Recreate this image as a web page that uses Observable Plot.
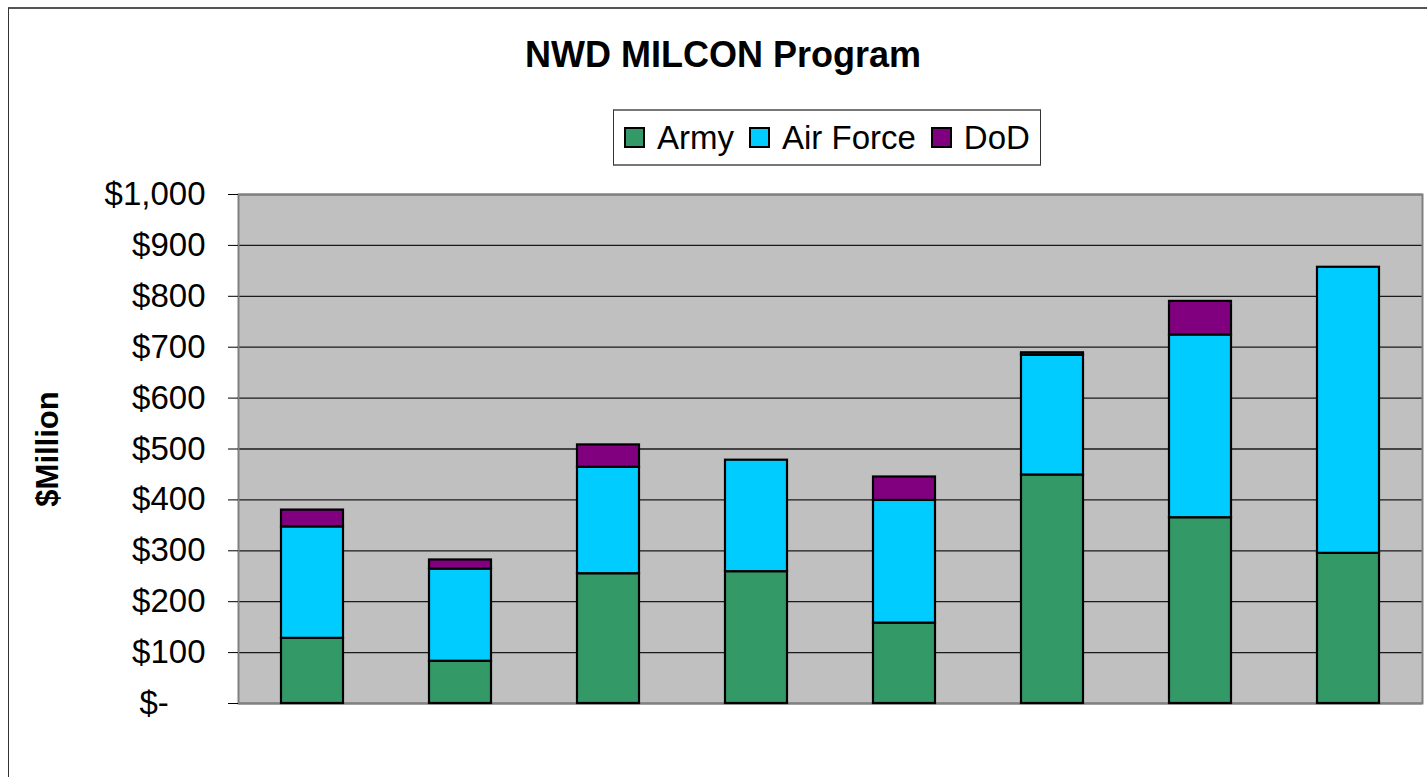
<!DOCTYPE html>
<html>
<head>
<meta charset="utf-8">
<script src="https://cdn.jsdelivr.net/npm/d3@7"></script>
<script src="https://cdn.jsdelivr.net/npm/@observablehq/plot@0.6"></script>
<style>
  html, body { margin: 0; padding: 0; background: #fff; }
  #page { position: relative; width: 1427px; height: 777px; overflow: hidden; font-family: "Liberation Sans", Arial, sans-serif; }
  #frame { position: absolute; left: 8px; top: 7px; width: 1500px; height: 900px; border-left: 1px solid #333; border-top: 2px solid #555; box-sizing: border-box; }
  #title { position: absolute; left: 0; width: 1446px; top: 33px; text-align: center; font-weight: bold; font-size: 36px; line-height: 44px; color: #000; }
  #legend { position: absolute; left: 613px; top: 109px; width: 428px; height: 57px; box-sizing: border-box; border: 1px solid #333; border-top: 2px solid #777; border-bottom: 2px solid #777; background: #fff; display: flex; flex-wrap: nowrap; align-items: center; padding-left: 10px; font-size: 33px; white-space: nowrap; }
  .item { display: flex; align-items: center; margin-right: 15px; flex-shrink: 0; white-space: nowrap; }
  .sw { width: 21px; height: 21px; border: 2px solid #000; margin-right: 12px; box-sizing: border-box; flex-shrink: 0; }
  #chart { position: absolute; left: 0; top: 170px; }
</style>
</head>
<body>
<div id="page">
  <div id="frame"></div>
  <div id="title"></div>
  <div id="legend"></div>
  <div id="chart"></div>
</div>
<script>
const titleText = "NWD MILCON Program";
const yLabel = "$Million";
const categories = ["1", "2", "3", "4", "5", "6", "7", "8"];
const seriesNames = ["Army", "Air Force", "DoD"];
const seriesColors = ["#339966", "#00CCFF", "#800080"];
const army     = [128, 83, 255, 259, 158, 449, 365, 295];
const airForce = [219, 181, 209, 219, 241, 235, 359, 562];
const dod      = [33, 18, 44, 0, 46, 5, 66, 0];
const yTicks = [0, 100, 200, 300, 400, 500, 600, 700, 800, 900, 1000];

document.getElementById("title").textContent = titleText;
const legend = document.getElementById("legend");
seriesNames.forEach((name, i) => {
  const item = document.createElement("div");
  item.className = "item";
  const sw = document.createElement("div");
  sw.className = "sw";
  sw.style.background = seriesColors[i];
  const t = document.createElement("span");
  t.textContent = name;
  item.appendChild(sw);
  item.appendChild(t);
  legend.appendChild(item);
});

const seriesValues = [army, airForce, dod];
const data = [];
categories.forEach((c, ci) => {
  seriesNames.forEach((s, si) => {
    data.push({category: c, series: s, value: seriesValues[si][ci]});
  });
});

const fmt = d => d === 0 ? "$-\u00a0\u00a0\u00a0\u00a0" : "$" + d3.format(",")(d);

const chart = Plot.plot({
  width: 1427,
  height: 607,
  marginLeft: 238,
  marginRight: 5,
  marginTop: 24,
  marginBottom: 74,
  style: {fontFamily: "'Liberation Sans', Arial, sans-serif", fontSize: "33px", background: "transparent", color: "#000"},
  x: {domain: categories, paddingInner: 0.58, paddingOuter: 0.29, axis: null},
  y: {domain: [0, 1000]},
  color: {domain: seriesNames, range: seriesColors},
  marks: [
    Plot.frame({fill: "#C0C0C0", stroke: null}),
    Plot.gridY(yTicks, {stroke: "#1a1a1a", strokeOpacity: 1, strokeWidth: 1.3}),
    Plot.frame({stroke: "#808080", strokeWidth: 2}),
    Plot.barY(data, {x: "category", y: "value", fill: "series", stroke: "#000", strokeWidth: 2.2, order: seriesNames}),
    Plot.axisY(yTicks, {tickFormat: fmt, tickSize: 10, tickPadding: 23, label: null, stroke: "#000", fontSize: 33}),
    Plot.ruleX([0], {frameAnchor: "left", stroke: "#555", strokeWidth: 1}),
    Plot.text([yLabel], {frameAnchor: "left", dx: -190, rotate: -90, textAnchor: "middle", fontWeight: "bold", fontSize: 31, fill: "#000"})
  ]
});
document.getElementById("chart").appendChild(chart);
</script>
</body>
</html>
